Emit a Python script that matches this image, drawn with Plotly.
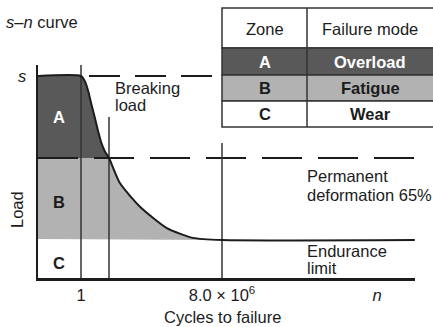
import numpy as np
import plotly.graph_objects as go

# ---- data: schematic s-n (load vs cycles) curve ----
# load expressed in % of the breaking load s
S_LEVEL = 100.0          # breaking load s
PERM_LEVEL = 65.0        # permanent deformation 65%
ENDURANCE = 30.0         # endurance limit

# cycles to failure (log axis) and load along the curve
cycles = [1, 1.6, 2.3, 3.3, 4.8, 7, 10, 15, 23.5, 80, 770, 1.6e4, 3.0e5, 8.0e6, 2.2e16]
load = [100, 97.5, 93.3, 87.6, 82.1, 76.2, 71.4, 67.7, 65, 54.3, 44.2, 35.1, 30.9, 30, 30]

N_KNEE = 8.0e6           # cycles at endurance limit
N_BREAK = 23.5           # crossing of curve with permanent deformation line
X_MIN, X_MAX = 10 ** -2.1052, 10 ** 16.352
Y_MIN, Y_MAX = 13.78, 104.69

tick_vals = [1, N_KNEE, 10 ** 14.49]
tick_text = ["1", "8.0 \u00d7 10<sup>6</sup>", "<i>n</i>"]

zones = ["A", "B", "C"]
modes = ["Overload", "Fatigue", "Wear"]

DARK = "#595959"
LIGHT = "#b2b2b2"
INK = "#1c1c1c"
FONT = "Liberation Sans, Arial, sans-serif"
FS = 16.5

W, H = 433, 327
ML, MR, MT, MB = 38, 18, 65, 49
PW, PH = W - ML - MR, H - MT - MB


def px(x):
    return (x - ML) / PW


def py(y):
    return (H - MB - y) / PH


fig = go.Figure()

# zone A: above permanent-deformation line, below the curve
cx = np.array(cycles)
cy = np.array(load)
mask_a = cy >= PERM_LEVEL
ax_ = [X_MIN, X_MIN] + list(cx[mask_a])
ay_ = [PERM_LEVEL, S_LEVEL] + list(cy[mask_a])
fig.add_trace(go.Scatter(x=ax_ + [X_MIN], y=ay_ + [PERM_LEVEL], fill="toself",
                         fillcolor=DARK, line=dict(width=0), mode="lines",
                         hoverinfo="skip", showlegend=False))

# zone B: between permanent-deformation line and endurance limit, below the curve
mask_b = (cy <= PERM_LEVEL) & (cx <= N_KNEE)
bx = [X_MIN] + list(cx[mask_b]) + [X_MIN]
by = [PERM_LEVEL] + list(cy[mask_b]) + [ENDURANCE + 0.4]
fig.add_trace(go.Scatter(x=bx + [X_MIN], y=by + [PERM_LEVEL], fill="toself",
                         fillcolor=LIGHT, line=dict(width=0), mode="lines",
                         hoverinfo="skip", showlegend=False))

# dashed reference lines
fig.add_trace(go.Scatter(x=[X_MIN, X_MAX], y=[PERM_LEVEL, PERM_LEVEL], mode="lines",
                         line=dict(color=INK, width=2, dash="40px,16px"),
                         hoverinfo="skip", showlegend=False))
fig.add_trace(go.Scatter(x=[2.46, N_KNEE], y=[S_LEVEL, S_LEVEL], mode="lines",
                         line=dict(color=INK, width=2, dash="31px,15px"),
                         hoverinfo="skip", showlegend=False))

# vertical markers
for xv, ytop in [(1, Y_MAX), (N_BREAK, 82.5), (N_KNEE, 71.4)]:
    fig.add_trace(go.Scatter(x=[xv, xv], y=[Y_MIN, ytop], mode="lines",
                             line=dict(color="#333333", width=1.5),
                             hoverinfo="skip", showlegend=False))

# s-n curve
fig.add_trace(go.Scatter(x=[X_MIN] + cycles, y=[S_LEVEL] + load, mode="lines",
                         line=dict(color=INK, width=2, shape="spline", smoothing=0.6),
                         hoverinfo="skip", showlegend=False))

# ---- text ----
ann = []


def text(x, y, s, size=FS, color=INK, xanchor="center", **kw):
    ann.append(dict(x=px(x), y=py(y), xref="paper", yref="paper", text=s,
                    showarrow=False, xanchor=xanchor, yanchor="middle",
                    font=dict(family=FONT, size=size, color=color), **kw))


text(4, 22, "<i>s</i>\u2013<i>n</i> curve", xanchor="left")
text(22, 76, "<i>s</i>")
text(113, 88, "Breaking", xanchor="left")
text(113, 105, "load", xanchor="left")
text(59, 117, "<b>A</b>", color="white")
text(59, 202, "<b>B</b>")
text(59, 263, "<b>C</b>")
text(17, 210, "Load", textangle=-90)
text(222, 317, "Cycles to failure")
text(305, 176, "Permanent", xanchor="left")
text(305, 195, "deformation 65%", xanchor="left")
text(305, 251, "Endurance", xanchor="left")
text(305, 268, "limit", xanchor="left")

# ---- zone / failure-mode table ----
shapes = []
T_L, T_M, T_R = 222, 307, 436
rows = [8, 48, 75, 101, 127]
fills = ["white", DARK, LIGHT, "white"]
for i in range(4):
    shapes.append(dict(type="rect", xref="paper", yref="paper",
                       x0=px(T_L), x1=px(T_R), y0=py(rows[i + 1]), y1=py(rows[i]),
                       fillcolor=fills[i], line=dict(color="#333333", width=1.5),
                       layer="above"))
shapes.append(dict(type="line", xref="paper", yref="paper", x0=px(T_M), x1=px(T_M),
                   y0=py(rows[-1]), y1=py(rows[0]),
                   line=dict(color="#333333", width=1.5), layer="above"))

text((T_L + T_M) / 2, 29, "Zone")
text((T_M + 433) / 2, 29, "Failure mode")
for i, (z, m) in enumerate(zip(zones, modes)):
    yc = (rows[i + 1] + rows[i + 2]) / 2
    col = "white" if i == 0 else INK
    text((T_L + T_M) / 2, yc, f"<b>{z}</b>", color=col)
    text((T_M + 433) / 2, yc, f"<b>{m}</b>", color=col)

fig.update_layout(
    width=W, height=H, margin=dict(l=ML, r=MR, t=MT, b=MB),
    paper_bgcolor="white", plot_bgcolor="white",
    annotations=ann, shapes=shapes,
    xaxis=dict(type="log", range=[np.log10(X_MIN), np.log10(X_MAX)],
               showgrid=False, zeroline=False, showline=True, linecolor=INK,
               linewidth=2.5, tickvals=tick_vals, ticktext=tick_text, ticks="",
               tickfont=dict(family=FONT, size=FS, color=INK)),
    yaxis=dict(range=[Y_MIN, Y_MAX], showgrid=False, zeroline=False,
               showline=True, linecolor=INK, linewidth=2, showticklabels=False,
               ticks=""),
)

fig.write_html("out.html")
